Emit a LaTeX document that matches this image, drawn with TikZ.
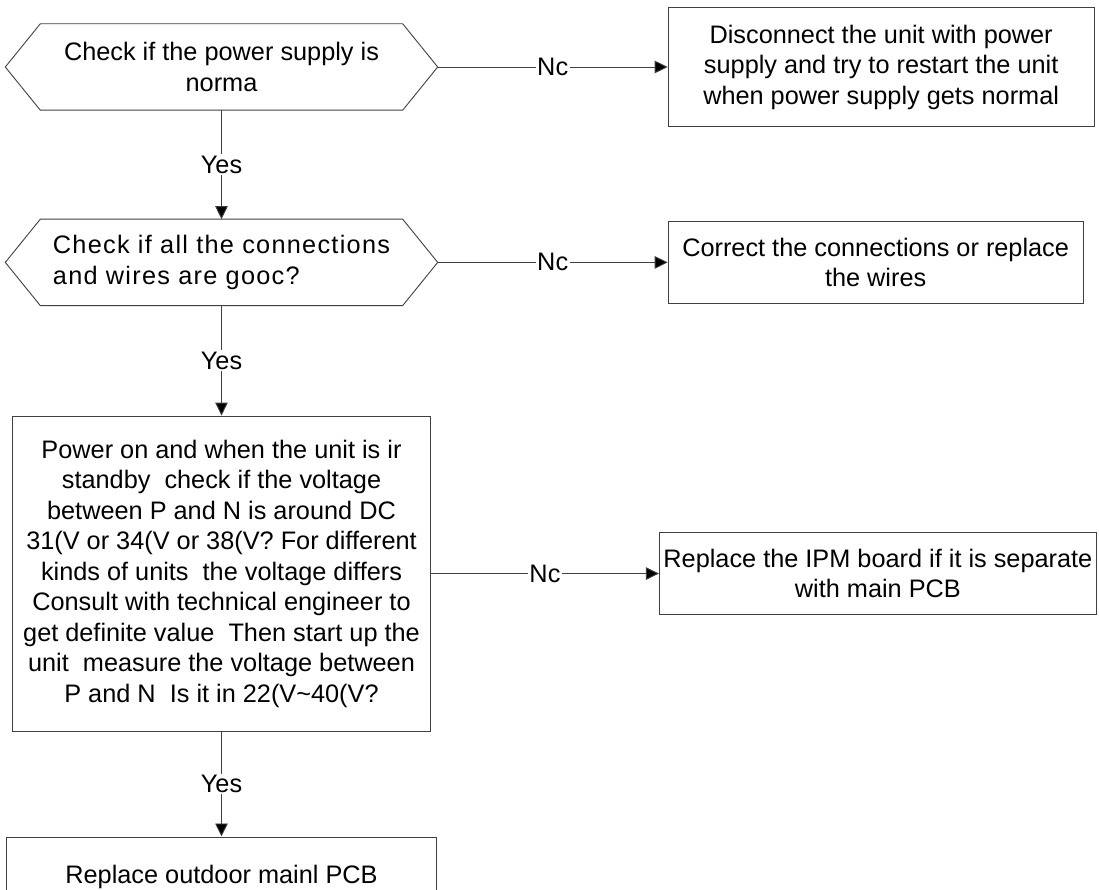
\documentclass[tikz,border=0pt]{standalone}
\usepackage{fontspec}
\setmainfont{Liberation Sans}
\newfontfamily\widefont[LetterSpace=5]{Liberation Sans}
\usetikzlibrary{arrows.meta,positioning}

\begin{document}
\begin{tikzpicture}[
    font=\fontsize{25.3pt}{30.5pt}\selectfont,
    hexbox/.style={minimum width=362pt, minimum height=86pt, inner sep=0pt},
    box/.style={draw=black!75, line width=0.9pt, align=center, inner sep=0pt},
    outline/.style={draw=black!75, line width=0.9pt},
    lbl/.style={fill=white, inner sep=1.5pt},
    arrow/.style={-{Triangle[length=13pt, width=12.5pt, fill=black]}, line width=0.9pt, draw=black!75}
]
\useasboundingbox (0,0) rectangle (1099pt,-890pt);

\node[hexbox, align=center] (power) at (221.5pt,-67pt) {Check if the power supply is\\norma};
\draw[outline] (power.north west) -- (power.north east) -- ([xshift=35pt]power.east) coordinate (power tip)
    -- (power.south east) -- (power.south west) -- ([xshift=-35pt]power.west) -- cycle;
\node[box, minimum width=426pt, minimum height=119pt, right=230pt of power tip] (restart) {Disconnect the unit with power\\supply and try to restart the unit\\when power supply gets normal};

\node[hexbox, align=left, below=109pt of power] (wires) {\widefont Check if all the connections\\\widefont and wires are gooc?};
\draw[outline] (wires.north west) -- (wires.north east) -- ([xshift=35pt]wires.east) coordinate (wires tip)
    -- (wires.south east) -- (wires.south west) -- ([xshift=-35pt]wires.west) -- cycle;
\node[box, minimum width=415pt, minimum height=82pt, right=230pt of wires tip] (correct) {Correct the connections or replace\\the wires};

\node[box, minimum width=418pt, minimum height=315pt, below=110pt of wires] (voltage) {Power on and when the unit is ir\\
standby\ \ check if the voltage\\
between P and N is around DC\\
31(V or 34(V or 38(V? For different\\
kinds of units\ \ the voltage differs\\
Consult with technical engineer to\\
get definite value\ \ Then start up the\\
unit\ \ measure the voltage between\\
P and N\ \ Is it in 22(V\textasciitilde 40(V?};
\node[box, minimum width=437pt, minimum height=82pt, right=228pt of voltage] (ipm) {Replace the IPM board if it is separate\\with main PCB};

\node[box, minimum width=430pt, minimum height=80pt, below=105pt of voltage] (mainpcb) {Replace outdoor mainl PCB};

\draw[arrow] (power tip) -- node[lbl] {Nc} (restart);
\draw[arrow] (power) -- node[lbl] {Yes} (wires);
\draw[arrow] (wires tip) -- node[lbl] {Nc} (correct);
\draw[arrow] (wires) -- node[lbl] {Yes} (voltage);
\draw[arrow] (voltage) -- node[lbl] {Nc} (ipm);
\draw[arrow] (voltage) -- node[lbl] {Yes} (mainpcb);
\end{tikzpicture}
\end{document}
